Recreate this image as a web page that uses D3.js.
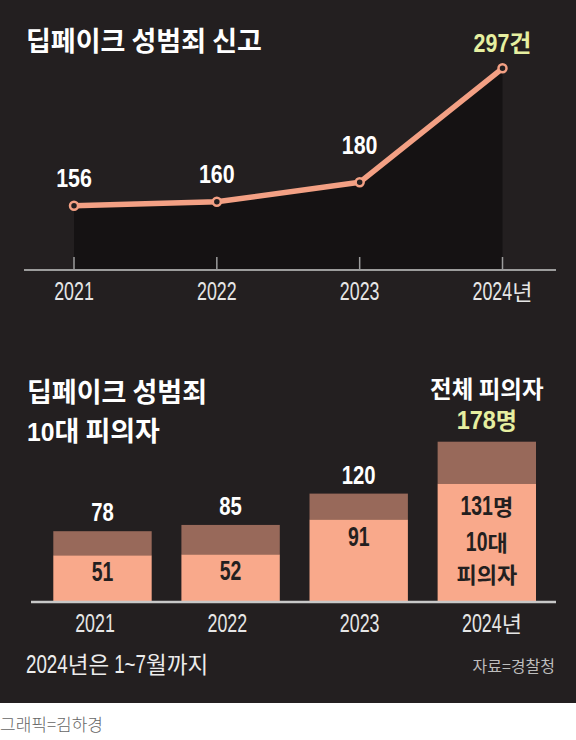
<!DOCTYPE html>
<html>
<head>
<meta charset="utf-8">
<script src="https://cdn.jsdelivr.net/npm/d3@7"></script>
<style>
  html, body { margin: 0; padding: 0; background: #fff; }
  svg { display: block; }
  text { white-space: pre; }
</style>
</head>
<body>
<svg id="chart" width="576" height="740"></svg>
<script>
// data
const years = ["2021", "2022", "2023", "2024"];
const yearLabels = ["2021", "2022", "2023", "2024년"];
const reports = [156, 160, 180, 297];
const reportLabels = ["156", "160", "180", "297건"];
const suspectsTotal = [78, 85, 120, 178];
const suspectsTeen = [51, 52, 91, 131];

const W = 576, H = 740, darkH = 703;
const bg = "#231f20";
const salmon = "#f3a084";
const barLow = "#f9a98b";
const barHigh = "#98695a";
const yellow = "#e6efa0";
const NUM = "'Liberation Sans',Arial,sans-serif";
const KOR = "'Noto Sans CJK KR','Noto Sans',sans-serif";

const svg = d3.select("#chart");
svg.append("rect").attr("width", W).attr("height", darkH).attr("fill", bg);

// digits in a squeezed latin face, hangul in the CJK face; each run its own size
function mixText(g, str, o) {
  const grp = g.append("g").attr("fill", o.fill || "#fff");
  const runs = str.match(/[\uac00-\ud7a3 ]+|[^\uac00-\ud7a3 ]+/g);
  let cur = 0;
  runs.forEach(r => {
    const kor = /[\uac00-\ud7a3]/.test(r) || r.trim() === "";
    const sx = kor ? (o.kx || 1) : (o.nx || 1);
    const t = grp.append("text")
      .attr("font-family", kor ? KOR : NUM)
      .attr("font-size", kor ? o.kSize : o.nSize)
      .attr("font-weight", o.weight || "normal")
      .text(r);
    const w = t.node().getComputedTextLength() * sx;
    t.attr("transform", `translate(${cur},0) scale(${sx},1)`);
    cur += w;
  });
  const shift = o.anchor === "middle" ? -cur / 2 : o.anchor === "end" ? -cur : 0;
  grp.attr("transform", `translate(${o.x + shift},${o.y})`);
  return grp;
}

// ---------- top: reports line ----------
const topG = svg.append("g");

mixText(topG, "딥페이크 성범죄 신고", { x: 26, y: 51, nSize: 27, kSize: 27, weight: "bold" });

const x = d3.scalePoint().domain(years).range([74, 502.5]);
const y = d3.scaleLinear().domain([90, 300]).range([270, 65.4]);
const axisY = 270;

const pts = years.map((d, i) => ({ year: d, v: reports[i], label: reportLabels[i] }));

topG.append("path")
  .datum(pts)
  .attr("fill", "#151213")
  .attr("d", d3.area().x(d => x(d.year)).y0(axisY).y1(d => y(d.v)));

topG.append("line")
  .attr("x1", 24).attr("x2", 556).attr("y1", axisY).attr("y2", axisY)
  .attr("stroke", "#9c9c9c").attr("stroke-width", 2);

topG.selectAll(".tick").data(years).join("line")
  .attr("x1", d => x(d)).attr("x2", d => x(d))
  .attr("y1", axisY - 13).attr("y2", axisY)
  .attr("stroke", "#9c9c9c").attr("stroke-width", 1.5);

topG.append("path")
  .datum(pts)
  .attr("fill", "none")
  .attr("stroke", salmon)
  .attr("stroke-width", 5.5)
  .attr("stroke-linejoin", "round")
  .attr("d", d3.line().x(d => x(d.year)).y(d => y(d.v)));

topG.selectAll(".dot").data(pts).join("circle")
  .attr("cx", d => x(d.year)).attr("cy", d => y(d.v))
  .attr("r", 4)
  .attr("fill", bg)
  .attr("stroke", salmon)
  .attr("stroke-width", 2.5);

const labelDy = [-18.5, -18.5, -28.5, -16.5];
pts.forEach((d, i) => {
  mixText(topG, d.label, {
    x: x(d.year), y: y(d.v) + labelDy[i], anchor: "middle",
    nSize: 25.5, nx: 0.84, kSize: 24, weight: "bold", fill: i === 3 ? yellow : "#fff"
  });
});

years.forEach((d, i) => {
  mixText(topG, yearLabels[i], {
    x: x(d), y: 300, anchor: "middle",
    nSize: 25.5, nx: 0.7, kSize: 22, fill: "#e6e6e6"
  });
});

// ---------- bottom: suspects bars ----------
const botG = svg.append("g");

mixText(botG, "딥페이크 성범죄", { x: 27, y: 402, nSize: 26, kSize: 27, weight: "bold" });
mixText(botG, "10대 피의자", { x: 27, y: 441, nSize: 26, nx: 0.95, kSize: 27, weight: "bold" });

const xb = d3.scaleBand().domain(years).range([53.3, 536]).paddingInner(0.232).paddingOuter(0);
const xl = d3.scalePoint().domain(years).range([95, 492]);
const baseY = 601;
const yb = d3.scaleLinear().domain([0, 178]).range([baseY, 441.7]);

const bars = years.map((d, i) => ({ year: d, total: suspectsTotal[i], teen: suspectsTeen[i] }));

botG.selectAll(".hi").data(bars).join("rect")
  .attr("x", d => xb(d.year)).attr("width", xb.bandwidth())
  .attr("y", d => yb(d.total)).attr("height", d => yb(d.teen) - yb(d.total))
  .attr("fill", barHigh);

botG.selectAll(".lo").data(bars).join("rect")
  .attr("x", d => xb(d.year)).attr("width", xb.bandwidth())
  .attr("y", d => yb(d.teen)).attr("height", d => baseY - yb(d.teen))
  .attr("fill", barLow);

botG.append("line")
  .attr("x1", 31).attr("x2", 556).attr("y1", baseY + 1).attr("y2", baseY + 1)
  .attr("stroke", "#c8c8c8").attr("stroke-width", 2.5);

bars.forEach((d, i) => {
  const cx = xb(d.year) + xb.bandwidth() / 2;
  const dark = { anchor: "middle", nSize: 27, nx: 0.72, kSize: 22, weight: "bold", fill: bg };
  if (i < 3) {
    mixText(botG, String(d.total), { x: cx, y: yb(d.total) - 10, anchor: "middle", nSize: 26, nx: 0.78, kSize: 23, weight: "bold" });
    mixText(botG, String(d.teen), Object.assign({}, dark, { x: cx, y: yb(d.teen) + 26 }));
  } else {
    mixText(botG, "전체 피의자", { x: cx, y: 397.5, anchor: "middle", nSize: 22, kSize: 23.5, weight: "bold" });
    mixText(botG, d.total + "명", { x: cx, y: 428.5, anchor: "middle", nSize: 25.5, nx: 0.92, kSize: 23, weight: "bold", fill: yellow });
    mixText(botG, d.teen + "명", Object.assign({}, dark, { x: cx, y: yb(d.teen) + 31 }));
    mixText(botG, "10대", Object.assign({}, dark, { x: cx, y: yb(d.teen) + 67.5 }));
    mixText(botG, "피의자", Object.assign({}, dark, { x: cx, y: yb(d.teen) + 99.5 }));
  }
});

years.forEach((d, i) => {
  mixText(botG, yearLabels[i], {
    x: xl(d), y: 632, anchor: "middle",
    nSize: 25.5, nx: 0.7, kSize: 22, fill: "#e6e6e6"
  });
});

mixText(botG, "2024년은 1~7월까지", { x: 26, y: 673, nSize: 25, nx: 0.75, kSize: 22.5, fill: "#ececec" });

botG.append("text")
  .attr("x", 555).attr("y", 672)
  .attr("text-anchor", "end")
  .attr("font-family", KOR).attr("font-size", 16)
  .attr("fill", "#bdbdbd")
  .text("자료=경찰청");

// credit under the panel
svg.append("text")
  .attr("x", 0).attr("y", 731)
  .attr("font-family", KOR).attr("font-size", 17).attr("font-weight", 300)
  .attr("fill", "#666")
  .text("그래픽=김하경");
</script>
</body>
</html>
